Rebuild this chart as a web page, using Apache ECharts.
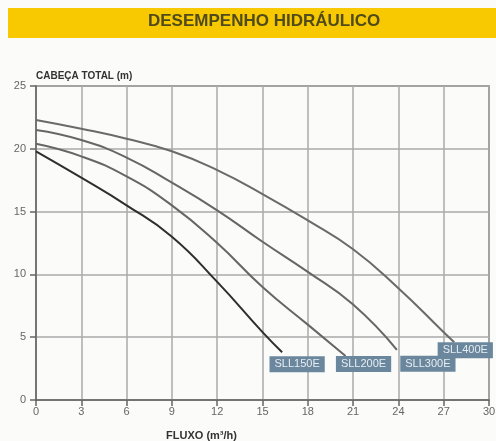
<!DOCTYPE html>
<html>
<head>
<meta charset="utf-8">
<script src="https://cdn.jsdelivr.net/npm/echarts@6/dist/echarts.min.js"></script>
<style>html,body{margin:0;padding:0;background:#fbfbf9;}#c{width:496px;height:441px;}</style>
</head>
<body>
<div id="c"></div>
<script>
const seriesNames = ['SLL150E', 'SLL200E', 'SLL300E', 'SLL400E'];
const flowSLL150E = [0, 3, 6, 9, 12, 15, 16.3];
const headSLL150E = [19.8, 17.7, 15.5, 13.0, 9.4, 5.4, 3.8];
const flowSLL200E = [0, 3, 6, 9, 12, 15, 18, 20.5];
const headSLL200E = [20.4, 19.4, 17.8, 15.5, 12.5, 9.0, 6.0, 3.5];
const flowSLL300E = [0, 3, 6, 9, 12, 15, 18, 21, 23.9];
const headSLL300E = [21.5, 20.7, 19.3, 17.3, 15.1, 12.6, 10.2, 7.6, 4.0];
const flowSLL400E = [0, 3, 6, 9, 12, 15, 18, 21, 24, 27, 27.7];
const headSLL400E = [22.3, 21.6, 20.8, 19.8, 18.3, 16.4, 14.3, 12.0, 8.9, 5.4, 4.6];
const xTicks = [0, 30, 3];
const yTicks = [0, 25, 5];

const flows = [flowSLL150E, flowSLL200E, flowSLL300E, flowSLL400E];
const heads = [headSLL150E, headSLL200E, headSLL300E, headSLL400E];
const labelOffsets = [[15, 12], [18, 8], [31, 14], [11, 8]];
const lineColors = ['#2e2e2e', '#666', '#666', '#6a6a6a'];

const series = seriesNames.map((name, i) => {
  const data = flows[i].map((x, j) => [x, heads[i][j]]);
  const last = data.length - 1;
  data[last] = {
    value: data[last],
    symbol: 'circle',
    symbolSize: 0,
    label: {
      show: true,
      position: 'inside',
      offset: labelOffsets[i],
      formatter: name,
      backgroundColor: '#6b879e',
      color: '#e6edf2',
      fontFamily: 'Liberation Sans',
      fontSize: 11,
      lineHeight: 12,
      padding: [2, 5]
    }
  };
  return {
    name: name,
    type: 'line',
    smooth: 0.5,
    symbol: 'none',
    showSymbol: true,
    lineStyle: { color: lineColors[i], width: 2 },
    data: data,
    z: 3
  };
});

const chart = echarts.init(document.getElementById('c'));
chart.setOption({
  backgroundColor: '#fbfbf9',
  animation: false,
  graphic: [{
    type: 'rect',
    shape: { x: 8, y: 8, width: 488, height: 30 },
    style: { fill: '#f8c800' },
    z: -1
  }],
  title: {
    text: 'DESEMPENHO HIDRÁULICO',
    left: 148,
    top: 13,
    padding: 0,
    textStyle: { fontFamily: 'Liberation Sans', fontSize: 17, fontWeight: 'bold', color: '#4f4b1c' }
  },
  grid: {
    left: 36, right: 7, top: 86, bottom: 41,
    outerBoundsMode: 'none',
    containLabel: false,
    show: true, borderColor: '#6e6e6e', borderWidth: 1.5, backgroundColor: 'transparent'
  },
  xAxis: {
    type: 'value',
    min: xTicks[0], max: xTicks[1], interval: xTicks[2],
    name: 'FLUXO (m³/h)',
    nameLocation: 'middle',
    nameGap: 30,
    nameTextStyle: { fontFamily: 'Liberation Sans', fontSize: 11, fontWeight: 'bold', color: '#333', padding: [0, 122, 0, 0] },
    axisLine: { show: true, lineStyle: { color: '#666', width: 1.5 } },
    axisTick: { show: true, length: 6, lineStyle: { color: '#666', width: 1.5 } },
    axisLabel: { color: '#666', fontSize: 11, fontFamily: 'Liberation Sans', margin: 6 },
    splitLine: { show: true, lineStyle: { color: '#aaa', width: 1.5 } }
  },
  yAxis: {
    type: 'value',
    min: yTicks[0], max: yTicks[1], interval: yTicks[2],
    name: 'CABEÇA TOTAL (m)',
    nameLocation: 'end',
    nameGap: 5,
    nameTextStyle: { fontFamily: 'Liberation Sans', fontSize: 10, fontWeight: 'bold', color: '#333', align: 'left' },
    axisLine: { show: true, lineStyle: { color: '#666', width: 1.5 } },
    axisTick: { show: true, length: 6, lineStyle: { color: '#666', width: 1.5 } },
    axisLabel: { color: '#666', fontSize: 11, fontFamily: 'Liberation Sans', margin: 10 },
    splitLine: { show: true, lineStyle: { color: '#aaa', width: 1.5 } }
  },
  series: series
});
</script>
</body>
</html>
